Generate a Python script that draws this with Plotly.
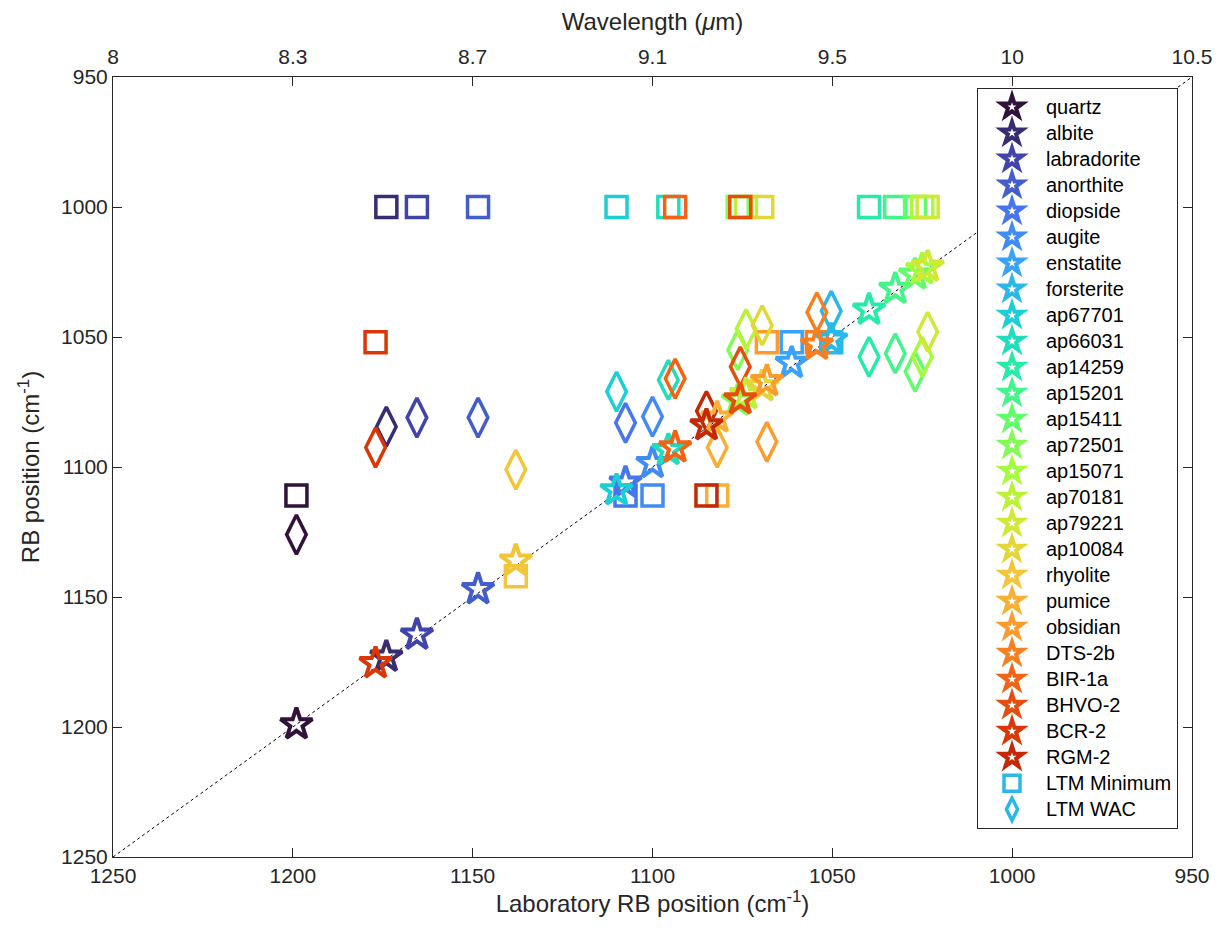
import plotly.graph_objects as go

# ---------------- data ----------------
names = ["quartz", "albite", "labradorite", "anorthite", "diopside", "augite",
         "enstatite", "forsterite", "ap67701", "ap66031", "ap14259", "ap15201",
         "ap15411", "ap72501", "ap15071", "ap70181", "ap79221", "ap10084",
         "rhyolite", "pumice", "obsidian", "DTS-2b", "BIR-1a", "BHVO-2",
         "BCR-2", "RGM-2"]

# laboratory RB position (cm-1)  -> x
lab_rb = [1199, 1174, 1165.5, 1148.5, 1107.5, 1100,
          1061.3, 1050.3, 1110, 1095.6, 1039.8, 1032.5,
          1027, 1076.3, 1025, 1074, 1023.5, 1069.5,
          1138, 1082, 1068.2, 1054.3, 1093.7, 1075.6,
          1177, 1085]

# RB position of the laboratory spectra (stars)
star_rb = [1199, 1173, 1164.5, 1147, 1106, 1098.5,
           1060, 1051, 1109, 1093.5, 1039.5, 1031.5,
           1026, 1074.5, 1024, 1072, 1023, 1069,
           1136, 1081, 1067, 1053, 1092.5, 1074,
           1175.5, 1084]

# LTM minimum RB position (squares)
ltm_min = [1111, 1000, 1000, 1000, 1111, 1111,
           1052, 1052, 1000, 1000, 1000, 1000,
           1000, 1000, 1000, 1000, 1000, 1000,
           1142, 1111, 1052, 1052, 1000, 1000,
           1052, 1111]

# LTM WAC RB position (diamonds)
ltm_wac = [1126, 1084.5, 1081, 1081, 1083, 1080.6,
           None, 1040, 1071, 1066.5, 1057.6, 1056.3,
           1063.3, 1055, 1057.6, 1047, 1048, 1045.5,
           1101, 1092.5, 1090.3, 1040.5, 1066, 1061.4,
           1092.5, 1078.5]

x_ticks = [1250, 1200, 1150, 1100, 1050, 1000, 950]
y_ticks = [950, 1000, 1050, 1100, 1150, 1200, 1250]
wl_labels = ["8", "8.3", "8.7", "9.1", "9.5", "10", "10.5"]
diag = [1250, 950]

# ---------------- colours (turbo colormap) ----------------
TURBO = ["#30123b", "#4145ab", "#4675ed", "#39a2fc", "#1bcfd4", "#24eca6",
         "#61fc6c", "#a4fc3b", "#d1e834", "#f3c63a", "#fe9b2d", "#f36315",
         "#d93806", "#b11901", "#7a0402"]


def hex2rgb(h):
    h = h.lstrip("#")
    return [int(h[i:i + 2], 16) for i in (0, 2, 4)]


def turbo(t):
    n = len(TURBO) - 1
    p = t * n
    i = min(int(p), n - 1)
    f = p - i
    a, b = hex2rgb(TURBO[i]), hex2rgb(TURBO[i + 1])
    c = [round(a[k] + (b[k] - a[k]) * f) for k in range(3)]
    return "rgb(%d,%d,%d)" % tuple(c)


NCOL = 29
colors = [turbo(i / (NCOL - 1)) for i in range(len(names))]
ltm_color = colors[7]

FONT = "Liberation Sans, Arial, Helvetica, sans-serif"
TXT = "#262626"

fig = go.Figure()

# diagonal 1:1 line
fig.add_trace(go.Scatter(x=diag, y=diag, mode="lines",
                         line=dict(color="black", width=1, dash="3px,3px"),
                         showlegend=False, hoverinfo="skip"))

# squares (LTM minimum)
for i, n in enumerate(names):
    fig.add_trace(go.Scatter(
        x=[lab_rb[i]], y=[ltm_min[i]], mode="markers", showlegend=False,
        marker=dict(symbol="square-open", size=21, color=colors[i],
                    line=dict(width=3.5, color=colors[i]))))

# diamonds (LTM WAC)
for i, n in enumerate(names):
    fig.add_trace(go.Scatter(
        x=[lab_rb[i]], y=[ltm_wac[i]], mode="markers", showlegend=False,
        marker=dict(symbol="diamond-tall-open", size=28, color=colors[i],
                    line=dict(width=3.5, color=colors[i]))))

# stars (laboratory)
for i, n in enumerate(names):
    fig.add_trace(go.Scatter(
        x=[lab_rb[i]], y=[star_rb[i]], mode="markers",
        name='<span style="font-size:20px">%s</span>' % n,
        marker=dict(symbol="star-open", size=24, color=colors[i],
                    line=dict(width=4, color=colors[i]))))

# legend-only entries for LTM markers
fig.add_trace(go.Scatter(
    x=[None], y=[None], mode="markers",
    name='<span style="font-size:20px">LTM Minimum</span>',
    marker=dict(symbol="square-open", size=16, color=ltm_color,
                line=dict(width=3.5, color=ltm_color))))
fig.add_trace(go.Scatter(
    x=[None], y=[None], mode="markers",
    name='<span style="font-size:20px">LTM WAC</span>',
    marker=dict(symbol="diamond-tall-open", size=16, color=ltm_color,
                line=dict(width=3.5, color=ltm_color))))

# invisible trace for the top (wavelength) axis
fig.add_trace(go.Scatter(x=diag, y=diag, xaxis="x2", mode="markers",
                         marker=dict(opacity=0), showlegend=False,
                         hoverinfo="skip"))

axis_common = dict(showgrid=False, zeroline=False, showline=True,
                   linecolor=TXT, linewidth=1, ticks="inside", ticklen=9,
                   tickwidth=1, tickcolor=TXT,
                   tickfont=dict(family=FONT, size=21, color=TXT),
                   automargin=False)

fig.update_layout(
    width=1215, height=928,
    margin=dict(l=105, r=31, t=69, b=79),
    paper_bgcolor="white", plot_bgcolor="white",
    font=dict(family=FONT, color=TXT),
    xaxis=dict(range=[1250, 950], tickvals=x_ticks, ticktext=[str(v) for v in x_ticks],
               title=dict(text="Laboratory RB position (cm<sup>-1</sup>)",
                          font=dict(family=FONT, size=24, color=TXT), standoff=4),
               **axis_common),
    xaxis2=dict(range=[1250, 950], overlaying="x", side="top",
                tickvals=x_ticks, ticktext=wl_labels, ticklabelstandoff=4,
                title=dict(text="Wavelength (<i>μ</i>m)",
                           font=dict(family=FONT, size=24, color=TXT), standoff=11),
                **axis_common),
    yaxis=dict(range=[1250, 950], tickvals=y_ticks, ticktext=[str(v) for v in y_ticks],
               mirror="ticks",
               title=dict(text="RB position (cm<sup>-1</sup>)",
                          font=dict(family=FONT, size=24, color=TXT), standoff=14),
               **axis_common),
    legend=dict(x=(977 - 113) / 1079, y=1 - (88 - 77) / 780,
                xanchor="left", yanchor="top",
                bgcolor="white", bordercolor=TXT, borderwidth=1,
                font=dict(family=FONT, size=17.7, color="black"),
                itemwidth=58, tracegroupgap=0),
    showlegend=True,
)

fig.write_html("out.html")
